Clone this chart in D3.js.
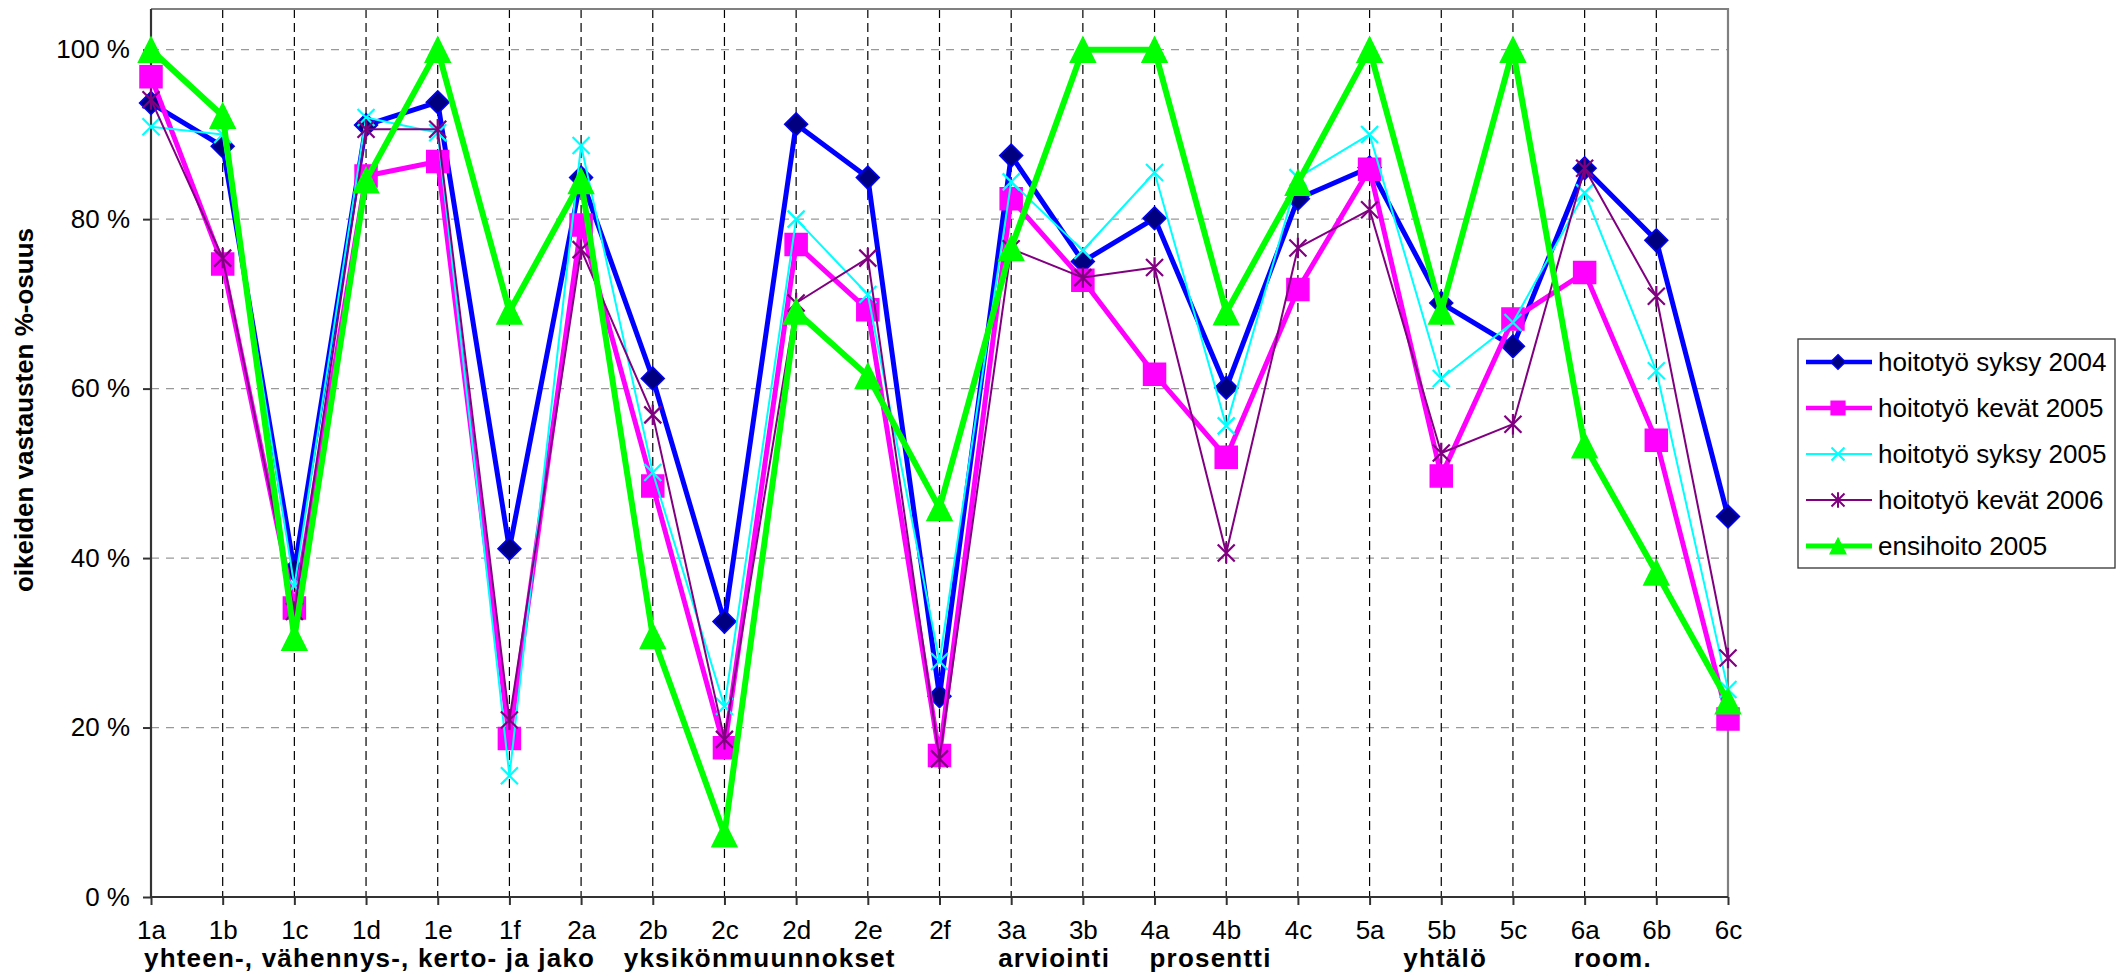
<!DOCTYPE html>
<html>
<head>
<meta charset="utf-8">
<script src="https://cdn.jsdelivr.net/npm/d3@7/dist/d3.min.js"></script>
<style>
  html, body { margin: 0; padding: 0; background: #fff; }
  svg { display: block; font-family: "Liberation Sans", Arial, sans-serif; }
</style>
</head>
<body>
<svg id="chart" width="2116" height="973"></svg>
<script>
const categories = ["1a","1b","1c","1d","1e","1f","2a","2b","2c","2d","2e","2f","3a","3b","4a","4b","4c","5a","5b","5c","6a","6b","6c"];
const seriesNames = ["hoitotyö syksy 2004","hoitotyö kevät 2005","hoitotyö syksy 2005","hoitotyö kevät 2006","ensihoito 2005"];
const syksy2004 = [93.7,88.6,38.6,91.1,93.8,41.1,84.9,61.2,32.5,91.2,84.9,23.7,87.5,75.0,80.1,60.1,82.4,86.1,70.1,65.0,86.0,77.5,44.9];
const kevat2005 = [96.8,74.7,34.1,85.1,86.8,18.7,79.3,48.5,17.6,77.0,69.3,16.7,82.4,72.8,61.7,51.9,71.7,85.9,49.7,68.2,73.7,53.9,21.0];
const syksy2005 = [90.9,90.0,36.7,92.0,90.2,14.3,88.7,50.1,22.5,80.0,71.1,27.8,84.4,76.3,85.5,55.6,84.9,90.0,61.2,67.8,83.1,62.1,24.5];
const kevat2006 = [94.1,75.4,33.7,90.6,90.6,20.9,76.4,56.9,18.6,70.1,75.4,16.3,76.5,73.1,74.3,40.6,76.6,81.1,52.4,55.8,86.0,70.9,28.2];
const ensihoito2005 = [100,92.2,30.6,84.6,100,69.1,84.5,30.8,7.4,69.1,61.5,45.9,76.6,100,100,69.0,84.3,100,69.1,100,53.3,38.3,23.1];
const yTicks = [0,20,40,60,80,100];
const groupLabels = ["yhteen-, vähennys-, kerto- ja jako","yksikönmuunnokset","arviointi","prosentti","yhtälö","room."];
const groupStart = ["1a","2b","3a","4a","5b","6a"];
const yTitle = "oikeiden vastausten %-osuus";

// layout: horizontal shift of each group label relative to its start category
const groupShift = [-7, -29, -13, -5, -38, -11];

const seriesData = [syksy2004, kevat2005, syksy2005, kevat2006, ensihoito2005];
const styles = [
  {color:"#0000FF", width:5, marker:"diamond", fill:"#000080", stroke:"#0000FF"},
  {color:"#FF00FF", width:5, marker:"square", fill:"#FF00FF", stroke:"#FF00FF"},
  {color:"#00FFFF", width:2, marker:"x", fill:"none", stroke:"#00FFFF"},
  {color:"#800080", width:2, marker:"star", fill:"none", stroke:"#800080"},
  {color:"#00FF00", width:6, marker:"triangle", fill:"#00FF00", stroke:"#00FF00"}
];

const L = 151, R = 1728, T = 9, B = 897;
const svg = d3.select("#chart");
const x = d3.scalePoint().domain(categories).range([L, R]);
const y = d3.scaleLinear().domain([0, 104.8]).range([B, T]);

// horizontal gridlines
svg.append("g").selectAll("line").data(yTicks.filter(d => d > 0)).join("line")
  .attr("x1", L).attr("x2", R).attr("y1", d => y(d)).attr("y2", d => y(d))
  .attr("stroke", "#999").attr("stroke-width", 1.2).attr("stroke-dasharray", "8,7");
// vertical gridlines
svg.append("g").selectAll("line").data(categories.slice(1, -1)).join("line")
  .attr("x1", d => x(d)).attr("x2", d => x(d)).attr("y1", T).attr("y2", B)
  .attr("stroke", "#000").attr("stroke-width", 1.2).attr("stroke-dasharray", "9,5");

// plot border top/right
svg.append("path").attr("d", `M${L},${T}H${R}V${B}`).attr("fill", "none")
  .attr("stroke", "#808080").attr("stroke-width", 2.2);

// y axis
const yAxis = d3.axisLeft(y).tickValues(yTicks).tickSize(8).tickPadding(13).tickFormat(d => d + " %");
const gy = svg.append("g").attr("transform", `translate(${L},0)`).call(yAxis);
gy.select(".domain").attr("d", `M0,${T}V${B}`).attr("stroke", "#333").attr("stroke-width", 2.2);
gy.selectAll(".tick line").attr("stroke", "#333").attr("stroke-width", 2);
gy.selectAll(".tick text").attr("font-size", 26).attr("fill", "#000")
  .attr("font-family", "Liberation Sans, Arial, sans-serif");

// x axis
const xAxis = d3.axisBottom(x).tickSize(8).tickPadding(16);
const gx = svg.append("g").attr("transform", `translate(0,${B})`).call(xAxis);
gx.select(".domain").attr("d", `M${L},0H${R}`).attr("stroke", "#333").attr("stroke-width", 2.2);
gx.selectAll(".tick line").attr("stroke", "#333").attr("stroke-width", 2);
gx.selectAll(".tick text").attr("font-size", 26).attr("fill", "#000")
  .attr("font-family", "Liberation Sans, Arial, sans-serif");

// group labels
svg.append("g").selectAll("text").data(groupLabels).join("text")
  .attr("x", (d, i) => x(groupStart[i]) + groupShift[i])
  .attr("y", 967)
  .attr("font-size", 26).attr("font-weight", "bold").attr("letter-spacing", 1.2)
  .text(d => d);

// y title
svg.append("text").attr("transform", "translate(33,410) rotate(-90)")
  .attr("text-anchor", "middle").attr("font-size", 26).attr("font-weight", "bold")
  .text(yTitle);

function markerPath(type, s) {
  switch (type) {
    case "diamond": return `M0,${-s}L${s},0L0,${s}L${-s},0Z`;
    case "square": return `M${-s},${-s}H${s}V${s}H${-s}Z`;
    case "triangle": return `M0,${-s}L${s},${s}L${-s},${s}Z`;
    case "x": return `M${-s},${-s}L${s},${s}M${-s},${s}L${s},${-s}`;
    case "star": return `M${-s},${-s}L${s},${s}M${-s},${s}L${s},${-s}M0,${-s*1.2}V${s*1.2}`;
  }
}
const markerSize = {diamond:11.5, square:11, triangle:12.5, x:8.5, star:8.5};

const line = d3.line().x((d, i) => x(categories[i])).y(d => y(d));
seriesData.forEach((vals, si) => {
  const st = styles[si];
  const g = svg.append("g");
  g.append("path").datum(vals).attr("d", line).attr("fill", "none")
    .attr("stroke", st.color).attr("stroke-width", st.width).attr("stroke-linejoin", "round");
  g.selectAll("path.m").data(vals).join("path").attr("class", "m")
    .attr("transform", (d, i) => `translate(${x(categories[i])},${y(d)})`)
    .attr("d", markerPath(st.marker, markerSize[st.marker]))
    .attr("fill", st.fill).attr("stroke", st.stroke)
    .attr("stroke-width", (st.marker === "x" || st.marker === "star") ? 2.2 : 1.5);
});

// legend
const lg = svg.append("g");
lg.append("rect").attr("x", 1798).attr("y", 339).attr("width", 317).attr("height", 229)
  .attr("fill", "#fff").attr("stroke", "#333").attr("stroke-width", 1.3);
const legendWidths = [4.5, 4.5, 1.8, 1.8, 5];
const legendMarker = {diamond:7.5, square:7, triangle:8, x:6.5, star:6.5};
seriesNames.forEach((name, i) => {
  const st = styles[i];
  const yy = 362 + i * 46;
  lg.append("line").attr("x1", 1806).attr("x2", 1872).attr("y1", yy).attr("y2", yy)
    .attr("stroke", st.color).attr("stroke-width", legendWidths[i]);
  lg.append("path").attr("transform", `translate(1838,${yy})`)
    .attr("d", markerPath(st.marker, legendMarker[st.marker]))
    .attr("fill", st.fill).attr("stroke", st.stroke)
    .attr("stroke-width", (st.marker === "x" || st.marker === "star") ? 2 : 1.2);
  lg.append("text").attr("x", 1878).attr("y", yy + 9).attr("font-size", 26).text(name);
});
</script>
</body>
</html>
